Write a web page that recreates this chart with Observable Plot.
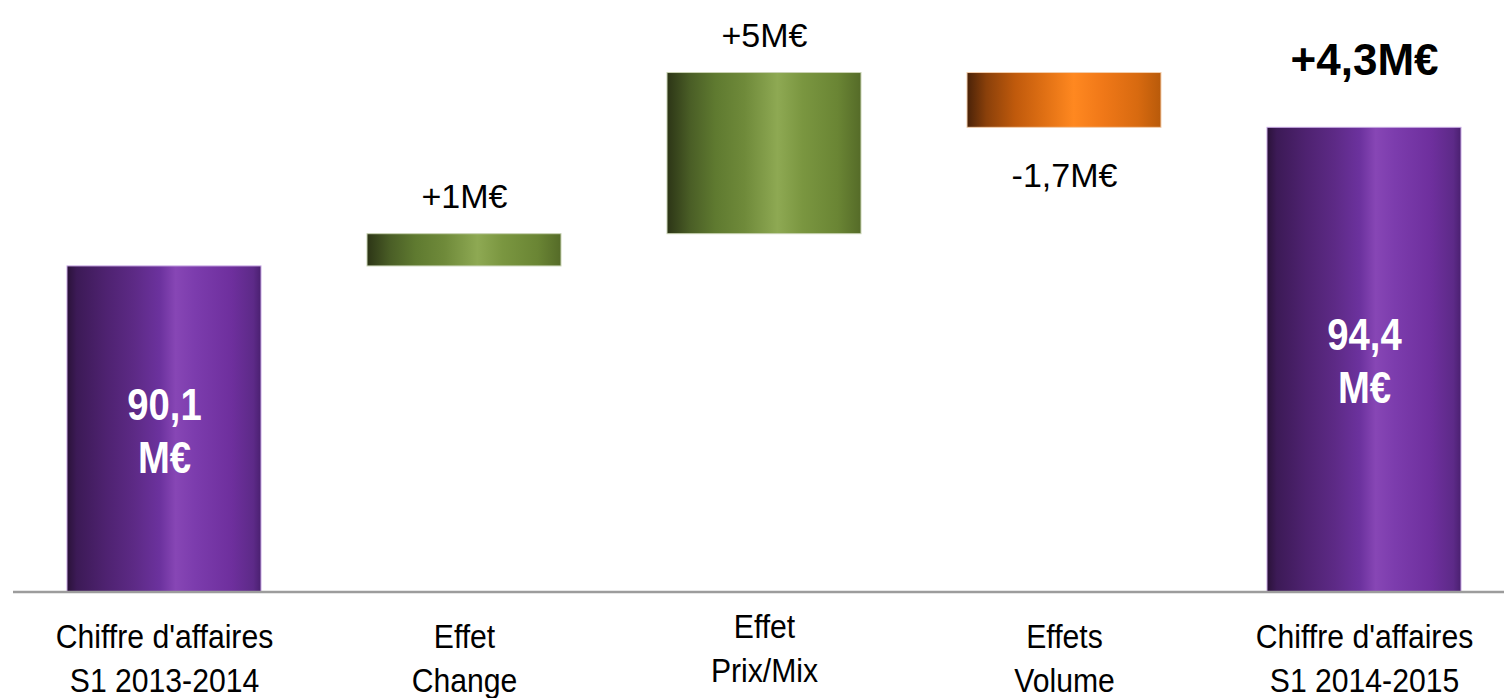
<!DOCTYPE html>
<html>
<head>
<meta charset="utf-8">
<script src="https://cdn.jsdelivr.net/npm/d3@7"></script>
<script src="https://cdn.jsdelivr.net/npm/@observablehq/plot@0.6"></script>
<style>
  html, body { margin: 0; padding: 0; background: #fff; }
  #chart svg { display: block; }
</style>
</head>
<body>
<div id="chart"></div>
<script>
// ---- Data ----
const categories = [
  "Chiffre d'affaires\nS1 2013-2014",
  "Effet\nChange",
  "Effet\nPrix/Mix",
  "Effets\nVolume",
  "Chiffre d'affaires\nS1 2014-2015"
];
const baseline = 80;
const startValue = 90.1;
const deltas = [1, 5, -1.7];
const endValue = 94.4;
const deltaLabels = ["+1M€", "+5M€", "-1,7M€"];
const totalLabels = ["90,1\nM€", "94,4\nM€"];
const changeLabel = "+4,3M€";
const yDomain = [baseline, 98.35];

// ---- Build waterfall rows ----
const rows = [];
rows.push({cat: categories[0], kind: "total", y1: baseline, y2: startValue, label: totalLabels[0]});
let acc = startValue;
deltas.forEach((d, i) => {
  rows.push({cat: categories[i + 1], kind: d >= 0 ? "up" : "down", y1: acc, y2: acc + d, label: deltaLabels[i]});
  acc += d;
});
rows.push({cat: categories[4], kind: "total", y1: baseline, y2: endValue, label: totalLabels[1]});
const changeRow = [{cat: categories[4], y: endValue, label: changeLabel}];

const totals = rows.filter(r => r.kind === "total");
const ups = rows.filter(r => r.kind === "up");
const downs = rows.filter(r => r.kind === "down");
const shiftedCat = categories[2];

const chart = Plot.plot({
  width: 1504,
  height: 698,
  marginTop: 0, marginBottom: 0, marginLeft: 13, marginRight: 0,
  x: {domain: categories, range: [14, 1514], paddingInner: 0.353, paddingOuter: 0.1765, axis: null},
  y: {domain: yDomain, range: [591.5, 0], axis: null},
  style: {fontFamily: "'Liberation Sans', Arial, Helvetica, sans-serif", background: "#fff", color: "#000"},
  marks: [
    Plot.barY(totals, {x: "cat", y1: "y1", y2: "y2", fill: "url(#gPurple)", stroke: "#c7a8e3", strokeWidth: 1, inset: 0}),
    Plot.barY(ups, {x: "cat", y1: "y1", y2: "y2", fill: "url(#gGreen)", stroke: "#c9d3b4", strokeWidth: 1, inset: 0}),
    Plot.barY(downs, {x: "cat", y1: "y1", y2: "y2", fill: "url(#gOrange)", stroke: "#f3cfae", strokeWidth: 1, inset: 0}),
    Plot.ruleY([baseline], {stroke: "#9c9c9c", strokeWidth: 2.5}),
    // category labels (index 0, 1 of text groups)
    Plot.text(rows.filter(r => r.cat !== shiftedCat), {x: "cat", y: () => baseline, text: "cat",
      fontSize: 33.5, lineHeight: 1.31, lineAnchor: "bottom", dy: 99.5, fill: "#000"}),
    Plot.text(rows.filter(r => r.cat === shiftedCat), {x: "cat", y: () => baseline, text: "cat",
      fontSize: 33.5, lineHeight: 1.31, lineAnchor: "bottom", dy: 89.5, fill: "#000"}),
    // inner total labels (index 2)
    Plot.text(totals, {x: "cat", y: r => (r.y1 + r.y2) / 2, text: "label",
      fontSize: 45, fontWeight: "bold", lineHeight: 1.18, lineAnchor: "middle", fill: "#fff"}),
    // delta labels (index 3, 4)
    Plot.text(ups, {x: "cat", y: "y2", text: "label", fontSize: 34, lineAnchor: "bottom", dy: -26, fill: "#000"}),
    Plot.text(downs, {x: "cat", y: "y2", text: "label", fontSize: 34, lineAnchor: "bottom", dy: 59, fill: "#000"}),
    // overall change label (index 5)
    Plot.text(changeRow, {x: "cat", y: "y", text: "label", fontSize: 44, fontWeight: "bold", lineAnchor: "bottom", dy: -53, fill: "#000"})
  ]
});

// ---- Gradients ----
const gradients = {
  gPurple: [[0, "#2a1238"], [0.05, "#3c1a56"], [0.2, "#4e2270"], [0.35, "#5d2a86"], [0.48, "#6c329e"], [0.56, "#8746b5"], [0.66, "#7c3cad"], [0.85, "#6e2f9d"], [0.96, "#5d2a88"], [1, "#4a2070"]],
  gGreen: [[0, "#2c3516"], [0.12, "#4a5e26"], [0.25, "#5f7a30"], [0.4, "#6f8a3a"], [0.57, "#8ea953"], [0.7, "#7a9640"], [0.88, "#6a8534"], [1, "#556b28"]],
  gOrange: [[0, "#4a2208"], [0.1, "#8a400a"], [0.25, "#c05a0c"], [0.4, "#e07014"], [0.55, "#ff8820"], [0.7, "#f07818"], [0.88, "#d86a10"], [1, "#b85a0a"]]
};
const defs = d3.select(chart).insert("defs", ":first-child");
for (const [id, stops] of Object.entries(gradients)) {
  const g = defs.append("linearGradient").attr("id", id).attr("x1", "0").attr("x2", "1").attr("y1", "0").attr("y2", "0");
  for (const [o, c] of stops) g.append("stop").attr("offset", o).attr("stop-color", c);
}

// ---- Horizontal condensing of some text groups ----
const textGroups = chart.querySelectorAll('g[aria-label="text"]');
const scales = [0.9, 0.9, 0.85, 1, 1, 1];
textGroups.forEach((g, gi) => {
  const s = scales[gi] ?? 1;
  if (s === 1) return;
  g.querySelectorAll("text").forEach(t => {
    const tr = t.getAttribute("transform");
    if (tr) {
      t.setAttribute("transform", tr + ` scale(${s},1)`);
    } else {
      const x = +t.getAttribute("x") || 0, y = +t.getAttribute("y") || 0;
      t.setAttribute("transform", `translate(${x},${y}) scale(${s},1) translate(${-x},${-y})`);
    }
  });
});

document.getElementById("chart").appendChild(chart);
</script>
</body>
</html>
